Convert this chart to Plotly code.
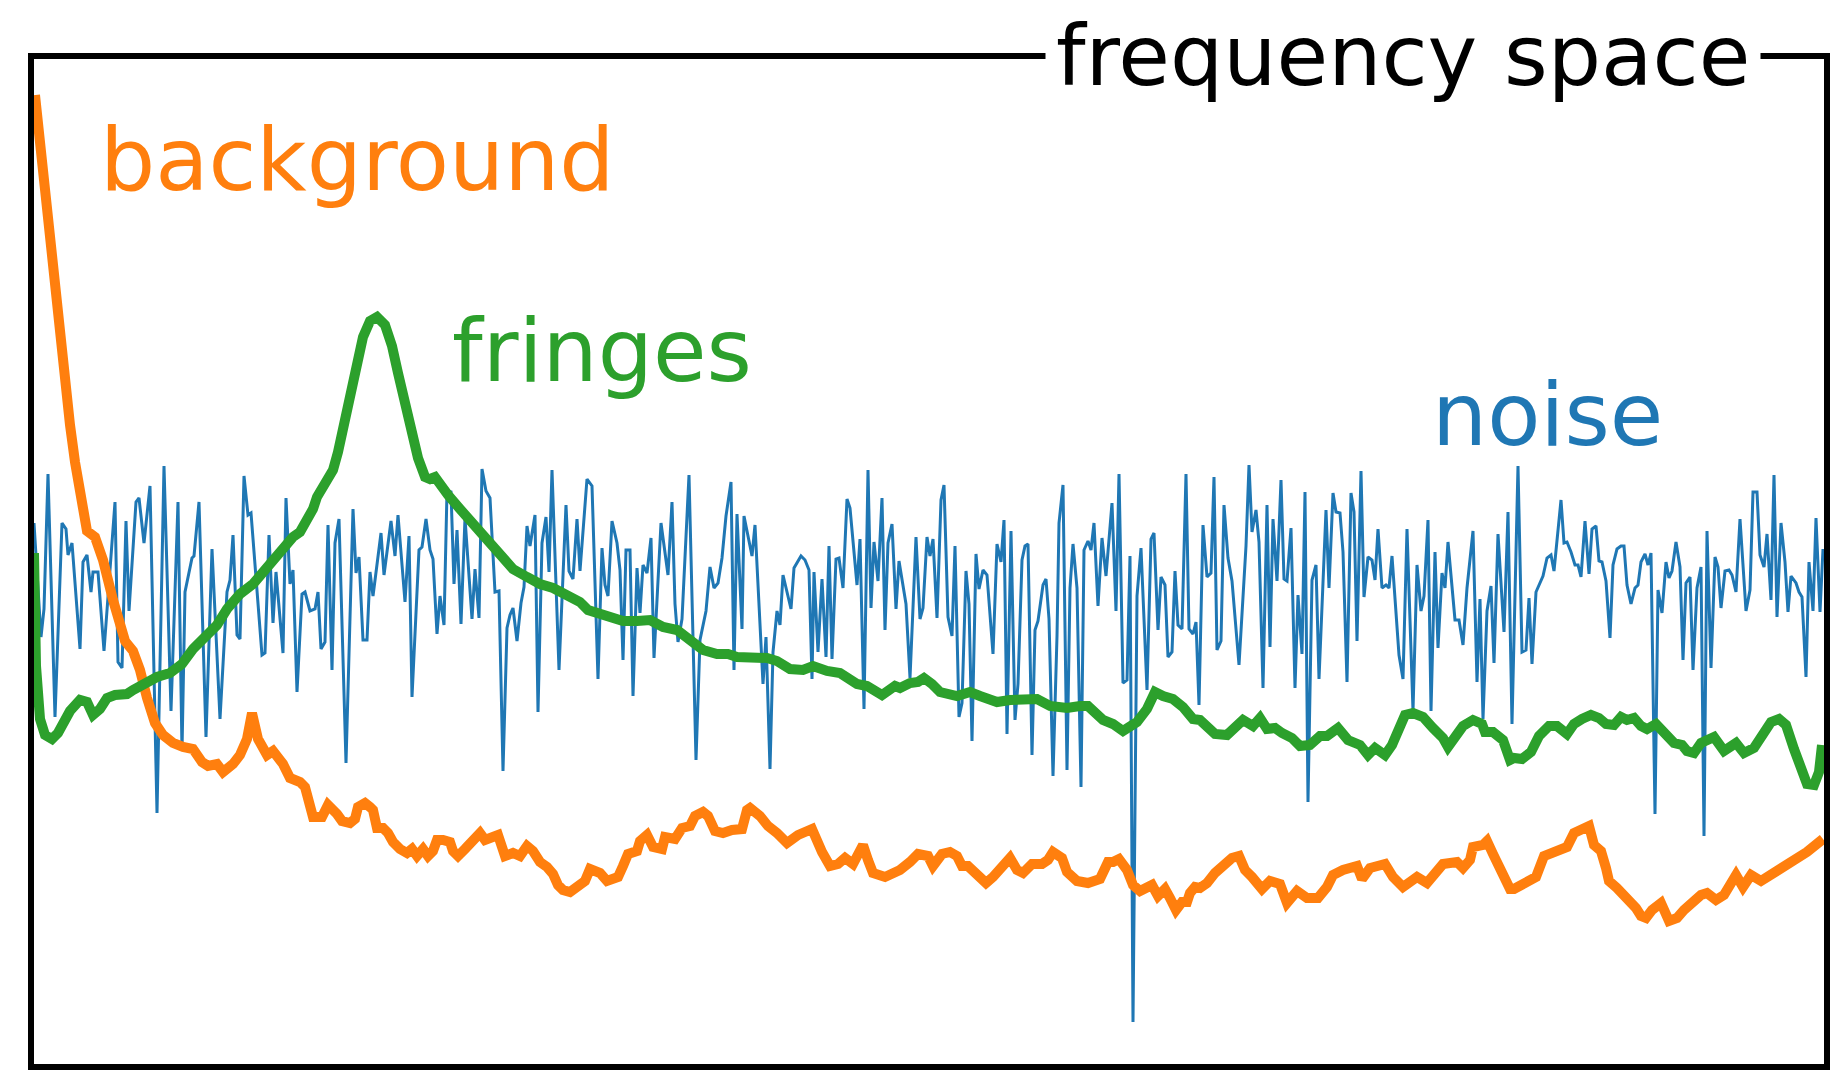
import plotly.graph_objects as go

# Frequency bins and amplitudes (arbitrary units) for the three spectra.

noise_bin = [
    3, 10, 13, 17, 24, 31, 35, 37, 41, 49,
    52, 56, 60, 62, 67, 73, 84, 87, 91, 95,
    98, 105, 108, 113, 119, 126, 133, 140, 147, 151,
    154, 161, 163, 168, 175, 181, 189, 196, 199, 202,
    206, 209, 213, 217, 220, 231, 234, 238, 242, 245,
    252, 255, 259, 262, 266, 271, 274, 279, 284, 287,
    290, 294, 297, 301, 304, 308, 315, 322, 325, 328,
    332, 336, 339, 342, 350, 353, 360, 364, 367, 374,
    378, 381, 388, 391, 395, 399, 402, 406, 409, 413,
    416, 420, 423, 426, 430, 434, 441, 444, 448, 451,
    455, 459, 464, 468, 472, 476, 479, 482, 486, 490,
    493, 496, 499, 504, 507, 511, 515, 518, 521, 528,
    535, 538, 542, 546, 549, 553, 556, 561, 567, 571,
    574, 577, 581, 586, 589,
    592, 595, 599, 602, 606, 609, 612, 616, 620, 623,
    630, 637, 641, 644, 647, 651, 658, 665, 669, 675,
    679, 683, 687, 691, 695, 700, 703, 706, 711, 713,
    721, 724, 732, 735, 739, 742, 746, 749, 752, 760,
    763, 770, 774, 778, 781, 783, 787, 791, 795, 798,
    801, 805, 808, 812, 816, 819, 826, 829, 833, 837,
    840, 843, 847, 851, 854, 857, 861, 865, 868, 875,
    879, 885, 889,
    892, 896, 899, 902, 906, 910, 913, 917, 921, 924,
    928, 931, 935, 938, 941, 945, 948, 952, 956, 962,
    966, 970, 973, 976, 980, 984, 987, 991, 994, 997,
    1001, 1004, 1007, 1012, 1015, 1018, 1022, 1026, 1028, 1032,
    1036, 1039, 1042, 1046, 1050, 1053, 1057, 1060, 1063, 1067,
    1071, 1075, 1081, 1085, 1088, 1092, 1096, 1099, 1102, 1106,
    1110, 1116, 1120, 1123, 1127, 1130, 1134, 1137, 1141, 1144,
    1147, 1151, 1155, 1158, 1162, 1165, 1168, 1172, 1176, 1180,
    1183, 1186,
    1190, 1193, 1197, 1201, 1208, 1215, 1218, 1221, 1225, 1228,
    1232, 1236, 1239, 1242, 1246, 1250, 1253, 1256, 1260, 1264,
    1267, 1271, 1274, 1277, 1281, 1285, 1288, 1295, 1298, 1302,
    1305, 1309, 1312, 1316, 1320, 1323, 1326, 1330, 1333, 1337,
    1341, 1344, 1347, 1351, 1355, 1358, 1361, 1368, 1372, 1376,
    1382, 1386, 1390, 1393, 1397, 1400, 1404, 1407, 1411, 1414,
    1417, 1424, 1428, 1432, 1436, 1442, 1446, 1449, 1452, 1456,
    1460, 1463, 1467, 1473, 1477, 1481, 1487,
    1491, 1495, 1498, 1501, 1505, 1508, 1512, 1516, 1520, 1523,
    1530, 1533, 1536, 1540, 1544, 1547, 1550, 1554, 1558, 1561,
    1565, 1568, 1571, 1575, 1579, 1582, 1586, 1590, 1593, 1596,
    1600, 1604, 1607, 1610, 1614, 1617, 1620, 1624, 1627, 1631,
    1635, 1638, 1641, 1645, 1649, 1652, 1655, 1659, 1662, 1666,
    1670, 1673, 1676, 1680, 1684, 1687, 1690, 1694, 1698, 1701,
    1705, 1709, 1712, 1715, 1719, 1722, 1726, 1729, 1733, 1736,
    1740, 1743, 1746, 1750, 1754, 1757, 1760, 1765, 1768, 1771,
    1775, 1778, 1782, 1785, 1789, 1792,
]
noise_amp = [
    544, 430, 458, 593, 350, 544, 538, 512, 524, 418,
    505, 512, 475, 495, 495, 416, 565, 405, 399, 546,
    456, 565, 569, 524, 581, 254, 601, 356, 565, 316,
    475, 509, 511, 565, 330, 518, 348, 475, 487, 532,
    432, 428, 591, 552, 554, 412, 414, 532, 444, 495,
    414, 569, 483, 497, 375, 473, 475, 456, 458, 475,
    418, 425, 542, 397, 524, 548, 304, 558, 494, 510,
    427, 427, 495, 471, 534, 492, 546, 511, 552, 465,
    531, 370, 517, 520, 548, 517, 508, 433, 471, 442,
    576, 575, 483, 537, 443, 549, 448, 498, 449, 598,
    576, 569, 475, 476, 296, 439, 452, 459, 426, 464,
    480, 541, 521, 552, 355, 524, 550, 495, 597, 397,
    562, 496, 488, 548, 496, 552, 588, 581, 388, 519,
    482, 471, 546, 524, 497,
    407, 517, 517, 371, 499, 454, 502, 494, 529, 409,
    544, 492, 565, 463, 425, 448, 592, 307, 427, 456,
    500, 479, 484, 509, 551, 585, 397, 553, 438, 551,
    511, 542, 383, 430, 298, 415, 456, 442, 492, 458,
    499, 511, 507, 497, 388, 495, 415, 488, 410, 521,
    408, 508, 509, 479, 568, 559, 482, 528, 358, 597,
    459, 525, 486, 569, 437, 524, 543, 458, 506, 463,
    389, 530, 448,
    459, 530, 511, 528, 449, 567, 582, 450, 431, 521,
    350, 364, 496, 463, 326, 513, 478, 497, 492, 413,
    523, 505, 547, 333, 536, 347, 383, 507, 521, 523,
    312, 437, 446, 482, 488, 448, 291, 431, 544, 582,
    297, 479, 523, 479, 280, 517, 526, 517, 544, 461,
    529, 491, 564, 456, 593, 384, 387, 511, 45, 471,
    519, 377, 528, 534, 437, 490, 482, 410, 415, 496,
    442, 438, 593, 438, 433, 445, 362, 542, 490, 494,
    590, 417,
    426, 562, 509, 486, 402, 521, 602, 535, 557, 525,
    379, 562, 420, 548, 486, 587, 488, 486, 539, 379,
    472, 413, 575, 265, 487, 502, 388, 557, 479, 574,
    555, 554, 515, 385, 574, 555, 426, 596, 470, 510,
    507, 487, 538, 479, 482, 479, 511, 412, 388, 538,
    356, 502, 456, 471, 547, 356, 515, 419, 494, 479,
    525, 447, 447, 422, 479, 536, 385, 468, 348, 456,
    481, 404, 533, 435, 555, 343, 601,
    415, 417, 469, 403, 475, 482, 491, 509, 512, 496,
    567, 524, 525, 515, 502, 502, 490, 546, 493, 538,
    541, 506, 505, 486, 429, 502, 518, 521, 521, 482,
    463, 479, 482, 505, 513, 502, 514, 253, 477, 454,
    505, 489, 496, 525, 500, 407, 484, 490, 397, 479,
    500, 231, 536, 399, 510, 500, 459, 496, 497, 492,
    475, 548, 502, 456, 477, 575, 575, 512, 500, 533,
    467, 592, 450, 544, 505, 455, 491, 484, 475, 470,
    390, 505, 456, 549, 455, 518,
]

fringe_bin = [
    3, 5, 9, 14, 21, 27, 39, 49, 56, 62,
    69, 76, 84, 96, 102, 109, 117, 126, 139, 151,
    162, 174, 186, 196, 209, 222, 236, 249, 262, 269,
    276, 282, 286, 291, 297, 302, 307, 312, 319, 326,
    332, 339, 346, 354, 361, 367, 374, 381, 387, 394,
    399, 404, 409, 417, 429, 442, 456, 469, 482, 496,
    509, 522, 536, 549, 557, 566, 576, 579, 592, 606,
    619, 632, 646, 659, 672, 686, 697, 706, 719, 726,
    736, 746, 759, 772, 782, 796, 809, 826, 836, 851,
    864, 869, 879, 887, 893, 901, 909, 926, 939, 949,
    966, 979, 992, 1006, 1019, 1036, 1049, 1057, 1072, 1082,
    1092, 1106, 1116, 1124, 1132, 1142, 1152, 1162, 1169, 1177,
    1184, 1196, 1202, 1212, 1222, 1229, 1236, 1244, 1251, 1261,
    1269, 1279, 1289, 1296, 1307, 1317, 1329, 1337, 1344, 1354,
    1361, 1367, 1374, 1382, 1392, 1402, 1412, 1417, 1424, 1432,
    1442, 1451, 1454, 1462, 1472, 1479, 1483, 1491, 1500, 1508,
    1518, 1526, 1536, 1543, 1551, 1560, 1568, 1575, 1583, 1590,
    1596, 1603, 1610, 1616, 1625, 1636, 1643, 1651, 1656, 1663,
    1670, 1683, 1693, 1705, 1713, 1723, 1731, 1740, 1748, 1755,
    1763, 1771, 1776, 1783, 1788, 1791,
]
fringe_amp = [
    514, 401, 348, 332, 328, 334, 356, 367, 365, 352,
    358, 369, 372, 373, 377, 381, 383, 390, 394, 403,
    418, 430, 442, 458, 473, 483, 499, 516, 530, 535,
    547, 558, 570, 579, 586, 597, 615, 638, 671, 703,
    730, 746, 750, 742, 721, 694, 661, 632, 609, 590,
    588, 590, 582, 572, 558, 543, 528, 512, 498, 490,
    483, 479, 473, 465, 457, 454, 451, 450, 446, 446,
    447, 440, 437, 427, 417, 413, 413, 410, 410, 408,
    409, 406, 398, 397, 401, 396, 394, 383, 381, 372,
    381, 379, 384, 385, 389, 383, 375, 371, 375, 371,
    365, 367, 368, 368, 361, 359, 361, 361, 347, 343,
    336, 345, 358, 375, 371, 368, 360, 348, 347, 341,
    333, 332, 339, 347, 341, 349, 338, 339, 334, 329,
    321, 322, 331, 331, 339, 327, 322, 312, 319, 312,
    322, 338, 352, 354, 350, 339, 329, 320, 332, 341,
    347, 343, 335, 335, 327, 307, 309, 308, 315, 331,
    341, 341, 333, 343, 348, 352, 349, 343, 342, 350,
    347, 349, 341, 338, 343, 333, 324, 322, 316, 314,
    324, 330, 316, 324, 314, 319, 331, 345, 348, 342,
    318, 295, 283, 282, 295, 322,
]

background_bin = [
    4, 9, 14, 19, 24, 29, 34, 39, 44, 49,
    56, 64, 72, 82, 94, 102, 109, 116, 124, 132,
    142, 152, 162, 171, 177, 186, 192, 202, 209, 216,
    221, 227, 236, 242, 252, 259, 269, 274, 279, 282,
    291, 297, 306, 311, 319, 324, 327, 334, 339, 342,
    346, 352, 357, 362, 369, 376, 381, 386, 392, 397,
    402, 406, 412, 419, 422, 427, 434, 441, 449, 454,
    461, 467, 474, 482, 489, 496, 502, 509, 516, 522,
    527, 532, 539, 546, 554, 559, 566, 569, 576, 587,
    592, 597, 606, 609, 616, 622, 631, 634, 644, 651,
    659, 664, 672, 677, 684, 692, 701, 711, 716, 719,
    729, 737, 746, 756, 767, 774, 781, 791, 799, 807,
    814, 822, 832, 837, 842, 854, 864, 869, 879, 887,
    897, 902, 911, 919, 926, 931, 937, 946, 955, 962,
    971, 979, 986, 992, 1001, 1011, 1017, 1022, 1031, 1036,
    1046, 1057, 1069, 1077, 1082, 1088, 1096, 1102, 1109, 1116,
    1121, 1127, 1134, 1139, 1145, 1151, 1156, 1159, 1164, 1169,
    1176, 1184, 1192, 1201, 1208, 1214, 1221, 1231, 1239, 1249,
    1256, 1266, 1276, 1287, 1296, 1302, 1312, 1326, 1331, 1339,
    1354, 1362, 1372, 1386, 1396, 1406, 1412, 1426, 1432, 1439,
    1442, 1452, 1456, 1462, 1467, 1472, 1479, 1483, 1490, 1498,
    1505, 1513, 1520, 1526, 1536, 1543, 1550, 1558, 1563, 1570,
    1575, 1578, 1586, 1593, 1600, 1605, 1610, 1615, 1621, 1630,
    1638, 1646, 1653, 1661, 1670, 1676, 1685, 1693, 1705, 1712,
    1720, 1730, 1743, 1760, 1776, 1792,
]
background_amp = [
    972, 923, 874, 827, 782, 737, 695, 642, 605, 569,
    536, 530, 507, 467, 426, 416, 397, 369, 344, 332,
    324, 320, 318, 305, 301, 303, 295, 303, 312, 328,
    354, 328, 312, 316, 303, 289, 285, 280, 262, 250,
    250, 262, 253, 246, 244, 248, 260, 264, 260, 257,
    239, 239, 234, 225, 218, 214, 218, 211, 218, 211,
    216, 227, 227, 225, 216, 211, 218, 227, 234, 227,
    230, 232, 211, 214, 211, 221, 216, 205, 200, 193,
    182, 177, 175, 179, 186, 198, 195, 194, 186, 190,
    201, 213, 216, 226, 232, 220, 218, 230, 228, 239,
    241, 251, 255, 251, 236, 234, 237, 238, 257, 259,
    251, 241, 234, 224, 232, 234, 238, 215, 201, 203,
    209, 203, 222, 207, 194, 190, 194, 197, 205, 213,
    211, 201, 213, 215, 211, 201, 201, 194, 184, 190,
    201, 209, 197, 194, 203, 203, 207, 215, 209, 195,
    186, 184, 188, 205, 205, 208, 197, 182, 176, 178,
    182, 171, 178, 169, 157, 165, 165, 174, 180, 179,
    184, 194, 201, 209, 211, 197, 190, 178, 186, 183,
    164, 176, 169, 169, 180, 192, 197, 201, 188, 199,
    203, 190, 180, 190, 184, 194, 203, 205, 199, 207,
    220, 222, 226, 213, 201, 190, 178, 178, 182, 186,
    190, 211, 213, 215, 220, 234, 238, 241, 222, 216,
    199, 186, 179, 172, 163, 159, 151, 149, 157, 164,
    146, 149, 157, 165, 172, 174, 167, 172, 192, 180,
    192, 186, 194, 203, 215, 228,
]

for name, xs, ys in [("noise", noise_bin, noise_amp),
                     ("fringes", fringe_bin, fringe_amp),
                     ("background", background_bin, background_amp)]:
    if len(xs) != len(ys):
        raise ValueError(f"{name}: {len(xs)} bins vs {len(ys)} amplitudes")

BLUE = "#1f77b4"
ORANGE = "#ff7f0e"
GREEN = "#2ca02c"
FONT = "DejaVu Sans"

fig = go.Figure()
fig.add_trace(go.Scatter(x=noise_bin, y=noise_amp, mode="lines",
                         line=dict(color=BLUE, width=3)))
fig.add_trace(go.Scatter(x=background_bin, y=background_amp, mode="lines",
                         line=dict(color=ORANGE, width=10)))
fig.add_trace(go.Scatter(x=fringe_bin, y=fringe_amp, mode="lines",
                         line=dict(color=GREEN, width=10)))

# Box around the panel
fig.add_shape(type="rect", xref="paper", yref="paper", x0=0, x1=1, y0=0, y1=1,
              line=dict(color="black", width=6), layer="above")

# Panel title sitting on the top edge
fig.add_annotation(text="frequency space", xref="paper", yref="paper",
                   x=0.5646, y=1.0, xanchor="left", yanchor="middle",
                   showarrow=False, bgcolor="white", borderpad=10,
                   font=dict(family=FONT, size=84, color="black"))

# Series labels
labels = [("background", 68, 907, ORANGE),
          ("fringes", 420, 716, GREEN),
          ("noise", 1400, 652, BLUE)]
for text, lx, ly, color in labels:
    fig.add_annotation(text=text, x=lx, y=ly, xref="x", yref="y",
                       xanchor="left", yanchor="middle", showarrow=False,
                       borderpad=0, font=dict(family=FONT, size=87, color=color))

fig.update_layout(
    width=1834, height=1073,
    margin=dict(l=31, r=7, t=56, b=6),
    paper_bgcolor="white", plot_bgcolor="white",
    showlegend=False,
    xaxis=dict(range=[0, 1796], visible=False, fixedrange=True),
    yaxis=dict(range=[0, 1011], visible=False, fixedrange=True),
)

fig.write_html("out.html")
